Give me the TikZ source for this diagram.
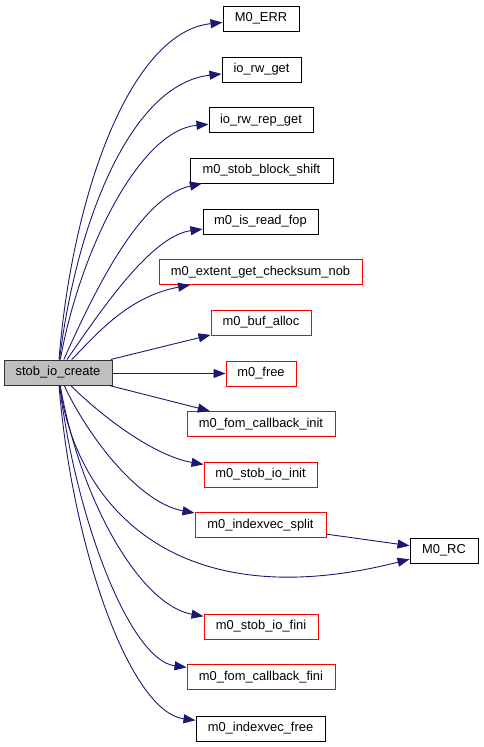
\documentclass[tikz,border=0pt]{standalone}
\usepackage{fontspec}
\setmainfont{Liberation Sans}
\usetikzlibrary{arrows.meta}
\definecolor{edgeblue}{HTML}{191970}
\definecolor{srcgray}{HTML}{BFBFBF}
\begin{document}
\begin{tikzpicture}[x=1pt,y=-1pt,
  box/.style={draw=black, line width=1pt, minimum height=25pt, inner sep=0pt,
    font=\fontsize{12.9}{14}\selectfont, fill=white},
  redbox/.style={box, draw=red},
  srcbox/.style={box, fill=srcgray, draw=black!80},
  edge/.style={draw=edgeblue, line width=0.9pt, -{Triangle[length=12pt,width=9pt]}}]
\useasboundingbox (0,0) rectangle (483,747);
% nodes
\node[srcbox, minimum width=108] (src) at (58,372.5) {stob\_io\_create};
\node[box, minimum width=76] (err) at (261,18.5) {M0\_ERR};
\node[box, minimum width=79] (rwget) at (261.5,69.5) {io\_rw\_get};
\node[box, minimum width=104] (rwrep) at (261,120) {io\_rw\_rep\_get};
\node[box, minimum width=143] (shift) at (261.5,170.5) {m0\_stob\_block\_shift};
\node[box, minimum width=115] (isread) at (260.5,221.5) {m0\_is\_read\_fop};
\node[redbox, minimum width=203] (extent) at (260.5,272) {m0\_extent\_get\_checksum\_nob};
\node[redbox, minimum width=100] (bufalloc) at (261,322.5) {m0\_buf\_alloc};
\node[redbox, minimum width=70] (free) at (261,373.5) {m0\_free};
\node[redbox, minimum width=148] (cbinit) at (261,424) {m0\_fom\_callback\_init};
\node[redbox, minimum width=113] (ioinit) at (260.5,474.5) {m0\_stob\_io\_init};
\node[redbox, minimum width=131] (split) at (260.5,525) {m0\_indexvec\_split};
\node[box, minimum width=68] (rc) at (444,550.5) {M0\_RC};
\node[redbox, minimum width=114] (iofini) at (261,626.5) {m0\_stob\_io\_fini};
\node[redbox, minimum width=148] (cbfini) at (261,677) {m0\_fom\_callback\_fini};
\node[box, minimum width=129] (vfree) at (260.5,728.5) {m0\_indexvec\_free};
% edges
\draw[edge] (src) .. controls (72,196) and (130,32) .. (err);
\draw[edge] (src) .. controls (76,224) and (130,84) .. (rwget);
\draw[edge] (src) .. controls (80,250) and (140,130) .. (rwrep);
\draw[edge] (src) .. controls (95,290) and (140,197) .. (shift);
\draw[edge] (src) .. controls (98,315) and (150,236) .. (isread);
\draw[edge] (src) .. controls (92,340) and (125,297) .. (extent);
\draw[edge] (src) -- (bufalloc);
\draw[edge] (src.east |- free) -- (free);
\draw[edge] (src) -- (cbinit);
\draw[edge] (src) .. controls (95,410) and (150,455) .. (ioinit);
\draw[edge] (src) .. controls (90,440) and (140,503) .. (split);
\draw[edge] (src) .. controls (75,500) and (170,620) .. (rc);
\draw[edge] (split) -- (rc);
\draw[edge] (src) .. controls (80,500) and (140,605) .. (iofini);
\draw[edge] (src) .. controls (76,520) and (130,660) .. (cbfini);
\draw[edge] (src) .. controls (72,548) and (130,712) .. (vfree);
\end{tikzpicture}
\end{document}
